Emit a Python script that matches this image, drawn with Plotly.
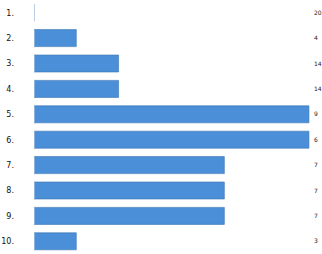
import plotly.graph_objects as go

categories = ["1.", "2.", "3.", "4.", "5.", "6.", "7.", "8.", "9.", "10."]
values = [0, 2, 4, 4, 13, 13, 9, 9, 9, 2]
right_labels = ["20", "4", "14", "14", "9", "6", "7", "7", "7", "3"]

fig = go.Figure()
fig.add_trace(go.Bar(
    y=categories, x=values, orientation="h",
    marker=dict(color="#4a8fd8", line=dict(color="#3a73b0", width=0.6)),
    showlegend=False, hoverinfo="skip",
))
fig.add_trace(go.Bar(
    y=categories, x=[0]*len(categories), orientation="h", yaxis="y2",
    showlegend=False, hoverinfo="skip", marker=dict(color="rgba(0,0,0,0)"),
))
fig.update_layout(
    width=322, height=254,
    margin=dict(l=34, r=12, t=0, b=0, autoexpand=False),
    paper_bgcolor="white", plot_bgcolor="white",
    bargap=0.33,
    font=dict(family="DejaVu Sans", size=8, color="#222"),
    xaxis=dict(range=[0, 13.05], showgrid=False, showticklabels=False,
               zeroline=False, showline=False, ticks="", automargin=False),
    yaxis=dict(categoryorder="array", categoryarray=categories,
               autorange="reversed", showgrid=False, ticks="", automargin=False,
               tickfont=dict(size=8, color="#111"),
               ticklabelstandoff=19),
    yaxis2=dict(overlaying="y", side="right", anchor="x", categoryorder="array",
                categoryarray=categories, autorange="reversed", automargin=False,
                tickmode="array", tickvals=categories, ticktext=right_labels,
                tickfont=dict(size=6, color="#222"), showgrid=False, ticks="",
                showticklabels=True, ticklabelstandoff=3),
)
fig.write_html("out.html",
               config={"displayModeBar": False, "staticPlot": True},
               post_script="document.body.style.margin='0';document.body.style.overflow='hidden';")
